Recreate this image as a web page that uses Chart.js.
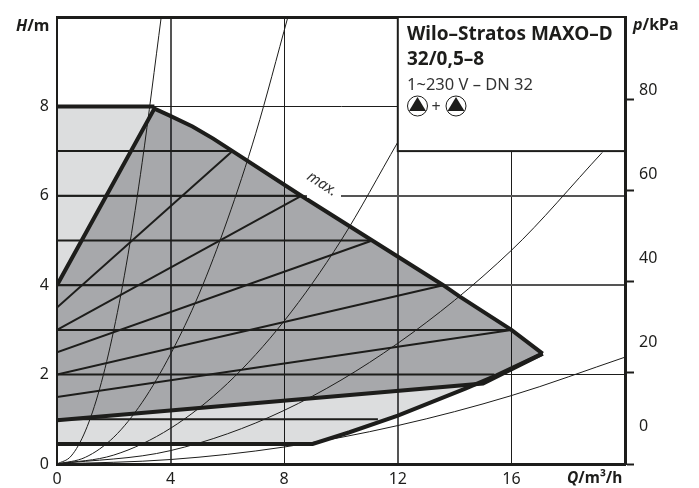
<!DOCTYPE html>
<html>
<head>
<meta charset="utf-8">
<script src="https://cdn.jsdelivr.net/npm/chart.js@4"></script>
<style>
html, body { margin: 0; padding: 0; background: #fff; }
#wrap { width: 699px; height: 488px; }
</style>
</head>
<body>
<div id="wrap"><canvas id="pumpChart" width="699" height="488"></canvas></div>
<script>
// values, Q in m3/h, H in m
const xTicks = [0, 4, 8, 12, 16, 20];
const yTicks = [0, 2, 4, 6, 8, 10];
const pLabelTicks = [0, 20, 40, 60, 80];

// shaded areas
const maxCurve = [[0, 4], [3.43, 7.95], [3.95, 7.8], [4.77, 7.55], [5.5, 7.28], [6.18, 7], [8.6, 6], [11.1, 5], [13.6, 4], [14.17, 3.75], [16, 3], [17.1, 2.47]];
const lowerEdge = [[0, 0.98], [15, 1.8], [17.1, 2.47]];
const topLight = [[0, 8], [3.43, 8]];
const topLightEdge = [[0, 4], [3.43, 7.95]];
const bottomLightTop = [[0, 0.98], [15, 1.8]];
const bottomEdge = [[0, 0.45], [9, 0.45], [10.3, 0.71], [12, 1.08], [14.4, 1.69], [15.46, 1.98], [17.1, 2.47]];

// dp-c lines
const constLines = [
    [[0, 7], [6.18, 7]],
    [[0, 6], [8.6, 6]],
    [[0, 5], [11.1, 5]],
    [[0, 4], [13.6, 4]],
    [[0, 3], [16, 3]],
    [[0, 2], [15.4, 2]],
    [[0, 1], [11.3, 1]]
];
// dp-v lines
const varLines = [
    [[0, 3.5], [6.18, 7]],
    [[0, 3], [8.6, 6]],
    [[0, 2.5], [11.1, 5]],
    [[0, 2], [13.6, 4]],
    [[0, 1.5], [16, 3]]
];
// system curves
const sysCurves = [
    [[0, 0], [0.5, 0.18], [1, 0.74], [1.5, 1.68], [2, 3], [2.5, 4.68], [3, 6.75], [3.67, 10]],
    [[0, 0], [1, 0.15], [2, 0.6], [3, 1.38], [4, 2.46], [5, 3.8], [6, 5.46], [7, 7.4], [8.13, 10]],
    [[0, 0], [2, 0.2], [4, 0.8], [6, 1.8], [8, 3.2], [10, 5], [12, 7.2]],
    [[0, 0], [4, 0.3], [8, 1.2], [12, 2.7], [16, 4.78], [19.2, 6.97]],
    [[0, 0], [4, 0.1], [8, 0.38], [12, 0.86], [16, 1.53], [20, 2.39]]
];

const INK = '#1d1d1b';
const GREY_GRID = '#555';
const FONT = '"Noto Sans", sans-serif';
// see-through so the grid stays visible under the shading
const DARK_FILL = 'rgba(4, 6, 15, 0.35)';
const LIGHT_FILL = 'rgba(5, 12, 19, 0.14)';

function pts(arr) {
    return arr.map(p => ({ x: p[0], y: p[1] }));
}
function line(arr, width, extra) {
    return Object.assign({
        data: pts(arr),
        showLine: true,
        borderColor: INK,
        borderWidth: width,
        pointRadius: 0,
        fill: false,
        tension: 0,
        borderCapStyle: 'butt',
        borderJoinStyle: 'miter'
    }, extra || {});
}
// list is turned round below, so the filled line looks back at its partner
function area(upper, lower, color) {
    return [
        line(upper, 0, { fill: '-1', backgroundColor: color, borderColor: 'transparent' }),
        line(lower, 0, { borderColor: 'transparent' })
    ];
}
function noPad(axis) {
    axis.paddingTop = 0;
    axis.paddingBottom = 0;
    axis.paddingLeft = 0;
    axis.paddingRight = 0;
}

const datasets = [];
datasets.push(...area(maxCurve, lowerEdge, DARK_FILL));
datasets.push(...area(topLight, topLightEdge, LIGHT_FILL));
datasets.push(...area(bottomLightTop, bottomEdge.slice(0, 5), LIGHT_FILL));
sysCurves.forEach(c => datasets.push(line(c, 1, { cubicInterpolationMode: 'monotone' })));
constLines.forEach(c => datasets.push(line(c, 2)));
varLines.forEach(c => datasets.push(line(c, 2)));
datasets.push(line(topLight, 4));
datasets.push(line(maxCurve, 4));
datasets.push(line(lowerEdge, 4));
datasets.push(line(bottomEdge, 4));
// chart.js draws the first dataset last, so turn the list round
datasets.reverse();

const overlay = {
    id: 'overlay',
    afterDraw(chart) {
        const c = chart.ctx;
        const sx = chart.scales.x, sy = chart.scales.y;
        c.save();

        // info box
        const bx = sx.getPixelForValue(12), by = sy.getPixelForValue(7);
        const bw = sx.getPixelForValue(20) - bx, bh = sy.getPixelForValue(10) - by;
        c.fillStyle = '#fff';
        c.fillRect(bx, by, bw, bh);
        c.strokeStyle = INK;
        c.lineWidth = 2;
        c.strokeRect(bx, by, bw, bh);

        c.fillStyle = INK;
        c.textBaseline = 'alphabetic';
        c.textAlign = 'left';
        c.font = 'bold 19px ' + FONT;
        c.fillText('Wilo–Stratos MAXO–D', 407, 40);
        c.fillText('32/0,5–8', 407, 65);
        c.font = '16.5px ' + FONT;
        c.fillStyle = '#333';
        c.fillText('1~230 V – DN 32', 407, 90);
        drawPump(c, 417.5, 106);
        c.fillStyle = '#333';
        c.textAlign = 'center';
        c.font = '16px ' + FONT;
        c.fillText('+', 436, 112);
        drawPump(c, 456, 106);

        // max. label, breaks the 6 m grid line
        c.fillStyle = '#fff';
        c.fillRect(307, sy.getPixelForValue(6) - 2, 34, 4);
        c.save();
        c.translate(322, 184);
        c.rotate(33 * Math.PI / 180);
        c.fillStyle = '#333';
        c.font = 'italic 15px ' + FONT;
        c.textAlign = 'center';
        c.textBaseline = 'middle';
        c.fillText('max.', 0, 0);
        c.restore();

        // axis names
        c.fillStyle = INK;
        unit(c, 'H', '/m', 16, 31, 16);
        unit(c, 'p', '/kPa', 633, 30, 16);
        unit(c, 'Q', '/m³/h', 567, 483, 15.5);
        c.restore();
    }
};

function unit(c, ital, rest, x, y, size) {
    c.textAlign = 'left';
    c.textBaseline = 'alphabetic';
    c.font = 'italic bold ' + size + 'px ' + FONT;
    c.fillText(ital, x, y);
    const w = c.measureText(ital).width;
    c.font = 'bold ' + size + 'px ' + FONT;
    c.fillText(rest, x + w, y);
}

function drawPump(c, x, y) {
    c.strokeStyle = INK;
    c.lineWidth = 1;
    c.beginPath();
    c.arc(x, y, 10, 0, Math.PI * 2);
    c.stroke();
    c.fillStyle = INK;
    c.beginPath();
    c.moveTo(x, y - 9);
    c.lineTo(x + 8.5, y + 5);
    c.lineTo(x - 8.5, y + 5);
    c.closePath();
    c.fill();
}

new Chart(document.getElementById('pumpChart').getContext('2d'), {
    type: 'scatter',
    data: { datasets: datasets },
    plugins: [overlay],
    options: {
        responsive: false,
        animation: false,
        layout: { padding: { top: 17, left: 0, right: 0, bottom: 0 } },
        plugins: { legend: { display: false }, tooltip: { enabled: false } },
        scales: {
            x: {
                type: 'linear',
                min: 0,
                max: 20,
                afterBuildTicks(axis) { axis.ticks = xTicks.map(v => ({ value: v })); },
                afterFit(axis) { axis.height = 24; noPad(axis); },
                ticks: {
                    color: INK,
                    padding: 6,
                    maxRotation: 0,
                    font: { family: 'Noto Sans', size: 16 },
                    callback: v => v === 20 ? '' : v
                },
                grid: {
                    color: c => c.tick && (c.tick.value === 4 || c.tick.value === 12) ? GREY_GRID : INK,
                    lineWidth: c => c.tick && (c.tick.value === 4 || c.tick.value === 12) ? 2 : 1,
                    drawTicks: false
                },
                border: { color: INK, width: 3, z: 2 }
            },
            y: {
                type: 'linear',
                min: 0,
                max: 10,
                afterBuildTicks(axis) { axis.ticks = yTicks.map(v => ({ value: v })); },
                afterFit(axis) { axis.width = 57; noPad(axis); },
                ticks: {
                    color: INK,
                    padding: 8,
                    font: { family: 'Noto Sans', size: 16 },
                    callback: v => v === 10 ? '' : v
                },
                grid: {
                    color: c => c.tick && (c.tick.value === 4 || c.tick.value === 6) ? GREY_GRID : INK,
                    lineWidth: c => {
                        if (!c.tick) return 1;
                        if (c.tick.value === 10) return 3;
                        return c.tick.value === 4 || c.tick.value === 6 ? 2 : 1;
                    },
                    drawTicks: false
                },
                border: { color: INK, width: 2, z: 2 }
            },
            // tick marks of the p axis, true scale 1 m = 9.81 kPa
            pMarks: {
                type: 'linear',
                position: 'right',
                weight: 0,
                min: 0,
                max: 98.1,
                afterBuildTicks(axis) { axis.ticks = pLabelTicks.map(v => ({ value: v })); },
                afterFit(axis) { axis.width = 0; noPad(axis); },
                ticks: { display: false },
                grid: { drawOnChartArea: false, drawTicks: true, tickLength: 9, tickWidth: 2, tickColor: INK, color: INK },
                border: { color: INK, width: 3, z: 2 }
            },
            // the printed p labels sit on their own spacing
            pLabels: {
                type: 'linear',
                position: 'right',
                weight: 1,
                min: -8.93,
                max: 97.4,
                afterBuildTicks(axis) { axis.ticks = pLabelTicks.map(v => ({ value: v })); },
                afterFit(axis) { axis.width = 74; noPad(axis); },
                ticks: {
                    color: INK,
                    padding: 14,
                    font: { family: 'Noto Sans', size: 16 }
                },
                grid: { display: false, drawTicks: false },
                border: { display: false }
            }
        }
    }
});
</script>
</body>
</html>
